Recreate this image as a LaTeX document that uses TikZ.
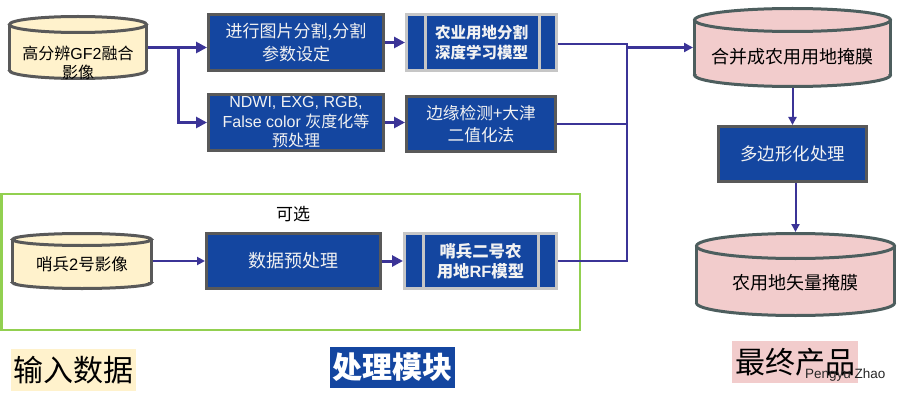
\documentclass[tikz,border=0pt]{standalone}
\usepackage{fontspec}
\setmainfont{Liberation Sans}
\newfontfamily\cjk{Noto Sans CJK SC}
\newfontfamily\narrowfont{Liberation Sans}
\usetikzlibrary{arrows.meta,calc}
\definecolor{boxblue}{HTML}{1446A0}
\definecolor{boxgray}{HTML}{595959}
\definecolor{mdlgray}{HTML}{C6C6C6}
\definecolor{linec}{HTML}{3B3497}
\definecolor{inyellow}{HTML}{FFF2CC}
\definecolor{outpink}{HTML}{F2CCCC}
\definecolor{pinkedge}{HTML}{4D5E5E}
\definecolor{optgreen}{HTML}{92D050}
\definecolor{boxtext}{HTML}{F2F2F2}
\newcommand\setfs[2]{\fontsize{#1}{#2}\selectfont}
% cx, rx, y of top ellipse centre, y of bottom ellipse centre, ry, fill, edge
\newcommand\drawcyl[7]{%
  \fill[#6] (#1-#2,#3) rectangle (#1+#2,#4);
  \fill[#6] (#1,#4) ellipse[x radius=#2, y radius=#5];
  \begin{scope}
    \clip (#1-#2-5,#4) rectangle (#1+#2+5,#4+#5+5);
    \draw[#7,line width=3pt] (#1,#4) ellipse[x radius=#2, y radius=#5];
  \end{scope}
  \draw[#7,line width=3pt] (#1-#2,#3) -- (#1-#2,#4) (#1+#2,#3) -- (#1+#2,#4);
  \draw[#7,line width=3pt,fill=#6] (#1,#3) ellipse[x radius=#2, y radius=#5];
}
\tikzset{
  blk/.style={draw=boxgray, line width=3pt, fill=boxblue, text=boxtext, align=center, inner sep=0pt},
  mdl/.style={draw=mdlgray, line width=3pt, fill=boxblue, text=boxtext, align=center, inner sep=0pt,
              font=\cjk\bfseries\setfs{16}{20}},
  mdlline/.style={draw=mdlgray, line width=3pt},
  cylnode/.style={inner sep=0pt, outer sep=0pt},
  conn/.style={draw=linec, line width=2.5pt},
  arrT/.style={draw=linec, line width=3pt, -{Triangle[length=11pt,width=11pt]}},
  arrS/.style={draw=linec, line width=2pt, -{Triangle[length=8pt,width=8pt]}},
  arrM/.style={draw=linec, line width=2.5pt, -{Triangle[length=9pt,width=9pt]}},
}
\begin{document}
\begin{tikzpicture}[x=1pt,y=-1pt]
\useasboundingbox (0,0) rectangle (907,401);

% optional frame
\draw[optgreen, line width=2.5pt] (1.5,194) rectangle (580,330);
\node[font=\cjk\setfs{17}{17}] (opt) at (293,214) {可选};

% cylinders
\drawcyl{78}{68.5}{24.5}{70.5}{8}{inyellow}{boxgray}
\node[cylnode, minimum width=140pt, minimum height=65pt] (c1) at (78,47.5) {};
\node[font=\setfs{16}{19}, align=center, inner sep=0pt] (t1) at (78,62.5) {{\cjk 高分辨}GF2{\cjk 融合}\\{\cjk 影像}};

\drawcyl{82}{69.5}{239.5}{282.5}{6}{inyellow}{boxgray}
\node[cylnode, minimum width=142pt, minimum height=58pt] (c4) at (82,261) {};
\node[font=\setfs{16.5}{19}, inner sep=0pt] (t4) at (82,264) {{\cjk 哨兵}2{\cjk 号影像}};

\drawcyl{792.5}{98}{20}{75}{11.5}{outpink}{pinkedge}
\node[cylnode, minimum width=199pt, minimum height=81pt] (c2) at (792.5,47.5) {};
\node[font=\cjk\setfs{18}{18}, inner sep=0pt] (t2) at (792.5,57) {合并成农用用地掩膜};

\drawcyl{795.5}{99}{246}{303}{12.5}{outpink}{pinkedge}
\node[cylnode, minimum width=201pt, minimum height=85pt] (c3) at (795.5,274.5) {};
\node[font=\cjk\setfs{18}{18}, inner sep=0pt] (t3) at (795.5,283) {农用地矢量掩膜};

% processing boxes
\node[blk, minimum width=175pt, minimum height=56pt, font=\cjk\setfs{17}{23}] (a) at (296,42.5) {进行图片分割,分割\\参数设定};
\node[blk, minimum width=175pt, minimum height=56pt, font=\setfs{16}{19.5}] (b) at (296,122.5) {NDWI, EXG, RGB,\\False color {\cjk 灰度化等}\\{\cjk 预处理}};
\node[mdl, minimum width=150pt, minimum height=56pt, font=\cjk\bfseries\setfs{15.5}{20}] (dl) at (481.5,43) {农业用地分割\\深度学习模型};
\draw[mdlline] ([xshift=20pt]dl.north west) -- ([xshift=20pt]dl.south west);
\draw[mdlline] ([xshift=-19pt]dl.north east) -- ([xshift=-19pt]dl.south east);
\node[blk, minimum width=149pt, minimum height=55pt, font=\cjk\setfs{16.7}{22}] (c) at (481,124) {边缘检测+大津\\二值化法};
\node[blk, minimum width=174pt, minimum height=55pt, font=\cjk\setfs{18}{18}] (e) at (293.5,261) {数据预处理};
\node[mdl, minimum width=152pt, minimum height=55pt, font=\cjk\bfseries\setfs{16.4}{20}] (rf) at (480.5,261) {哨兵二号农\\用地{\normalfont\bfseries\setfs{16.4}{20}RF}模型};
\draw[mdlline] ([xshift=20pt]rf.north west) -- ([xshift=20pt]rf.south west);
\draw[mdlline] ([xshift=-20pt]rf.north east) -- ([xshift=-20pt]rf.south east);
\node[blk, minimum width=148pt, minimum height=55pt, font=\cjk\setfs{17.5}{17.5}] (d) at (792.5,154) {多边形化处理};

% connectors
\coordinate (br) at (178,47.5);
\coordinate (mx) at (627,44);
\draw[arrT] (c1.east) -- (c1.east -| a.west);
\draw[arrT] (br) |- (b.west);
\draw[arrT] (a.east) -- (a.east -| dl.west);
\draw[arrT] (b.east) -- (b.east -| c.west);
\draw[arrS] (c4.east) -- (e.west);
\draw[arrT] (e.east) -- (rf.west);
\draw[conn] (rf.east) -| (mx) -- (mx -| dl.east);
\draw[conn] (c.east) -- (c.east -| mx);
\draw[arrM] (mx |- c2.west) -- (c2.west);
\draw[arrS] (c2.south) -- (c2.south |- d.north);
\draw[arrS] (c3.north |- d.south) -- (c3.north);

% legend
\node[fill=inyellow, inner sep=0pt, minimum width=125pt, minimum height=42pt, font=\cjk\setfs{30}{30}] (l1) at (73.5,370) {输入数据};
\node[fill=boxblue, text=white, inner sep=0pt, minimum width=125pt, minimum height=41pt, font=\cjk\bfseries\setfs{30}{30}] (l2) at (392.5,367.5) {处理模块};
\node[fill=outpink, inner sep=0pt, minimum width=126pt, minimum height=42pt, font=\cjk\setfs{30}{30}] (l3) at (795,362) {最终产品};
\node[anchor=west, inner sep=0pt, font=\narrowfont\setfs{13.5}{13.5}, text=black!85] (pz) at (805,375) {Pengyu Zhao};
\end{tikzpicture}
\end{document}
